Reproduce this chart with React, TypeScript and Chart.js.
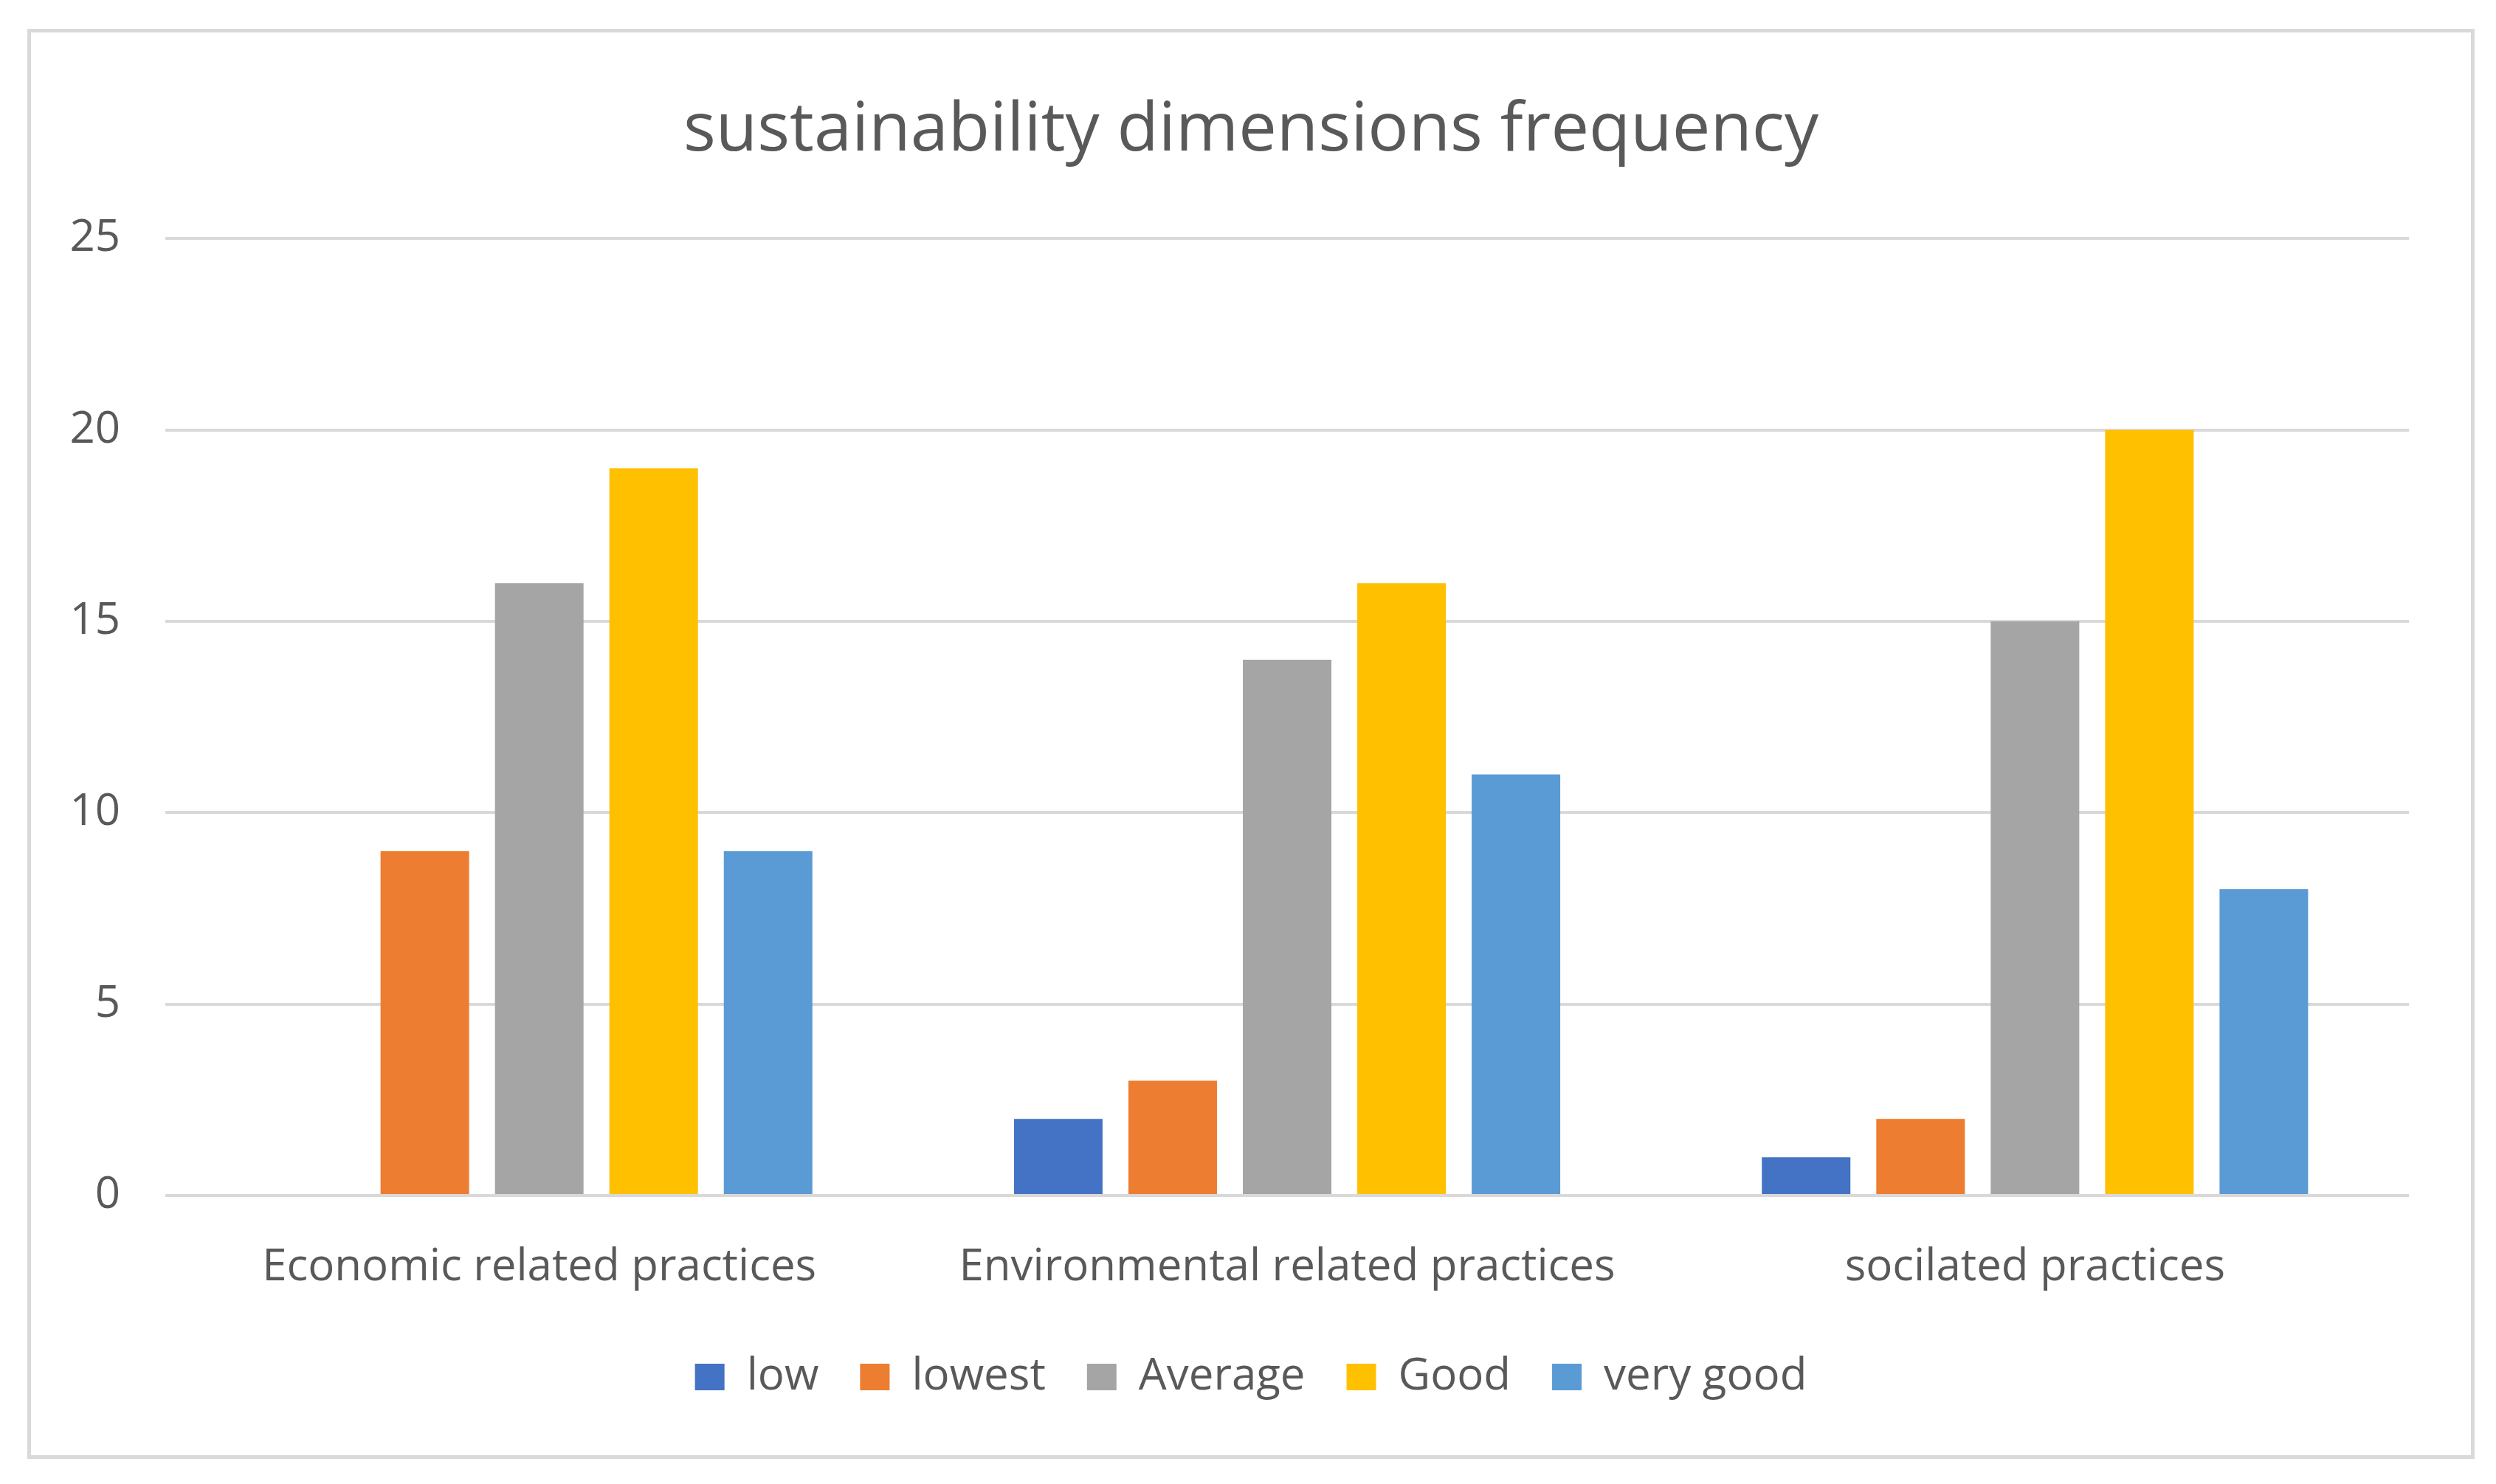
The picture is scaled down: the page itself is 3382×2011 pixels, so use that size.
import React, { useEffect, useRef } from 'react';
import { Chart, registerables } from 'chart.js';

Chart.register(...registerables);

const categories = ['Economic related practices', 'Environmental related practices', 'socilated practices'];
const seriesNames = ['low', 'lowest', 'Average', 'Good', 'very good'];
const lowValues = [0, 2, 1];
const lowestValues = [9, 3, 2];
const averageValues = [16, 14, 15];
const goodValues = [19, 16, 20];
const veryGoodValues = [9, 11, 8];
const seriesColors = ['#4472C4', '#ED7D31', '#A5A5A5', '#FFC000', '#5B9BD5'];
const yTicks = [0, 5, 10, 15, 20, 25];

const FONT = '"Open Sans", "DejaVu Sans", sans-serif';
const TEXT = '#595959';

const App: React.FC = () => {
  const canvasRef = useRef<HTMLCanvasElement>(null);
  const chartRef = useRef<Chart | null>(null);

  useEffect(() => {
    if (!canvasRef.current) return;
    if (chartRef.current) chartRef.current.destroy();

    const ctx = canvasRef.current.getContext('2d');
    if (!ctx) return;

    const values = [lowValues, lowestValues, averageValues, goodValues, veryGoodValues];

    chartRef.current = new Chart(ctx, {
      type: 'bar',
      data: {
        labels: categories,
        datasets: seriesNames.map((name, i) => ({
          label: name,
          data: values[i],
          backgroundColor: seriesColors[i],
          borderWidth: 0,
          categoryPercentage: 0.765,
          barPercentage: 0.774,
        })),
      },
      options: {
        animation: false,
        responsive: true,
        maintainAspectRatio: false,
        devicePixelRatio: 1,
        layout: { padding: { left: 0, right: 0, top: 0, bottom: 66 } },
        plugins: {
          title: {
            display: true,
            text: 'sustainability dimensions frequency',
            color: TEXT,
            font: { family: FONT, size: 92, weight: 'normal' },
            padding: { top: 79, bottom: 90 },
          },
          legend: {
            position: 'bottom',
            labels: {
              color: TEXT,
              font: { family: FONT, size: 60 },
              boxWidth: 40,
              boxHeight: 36,
              padding: 56,
            },
          },
          tooltip: { enabled: false },
        },
        scales: {
          x: {
            grid: { display: false },
            border: { display: false },
            ticks: {
              color: TEXT,
              font: { family: FONT, size: 60 },
              padding: 54,
              maxRotation: 0,
            },
            afterFit: (s: any) => {
              s.height = 160;
            },
          },
          y: {
            min: 0,
            max: 25,
            border: { display: false },
            grid: { color: '#D9D9D9', lineWidth: 4, drawTicks: false },
            afterBuildTicks: (s: any) => {
              s.ticks = yTicks.map(v => ({ value: v }));
            },
            ticks: {
              color: TEXT,
              font: { family: FONT, size: 60 },
              padding: 61,
            },
            afterFit: (s: any) => {
              s.width = 182;
            },
          },
          // empty right-hand margin so the title and legend stay centred on the whole box
          yRight: {
            type: 'linear',
            position: 'right',
            grid: { display: false },
            border: { display: false },
            ticks: { display: false },
            afterFit: (s: any) => {
              s.width = 84;
            },
          },
        },
      },
    });

    return () => {
      if (chartRef.current) {
        chartRef.current.destroy();
        chartRef.current = null;
      }
    };
  }, []);

  return (
    <div
      style={{
        position: 'absolute',
        left: 37,
        top: 39,
        width: 3316,
        height: 1938,
        boxSizing: 'border-box',
        border: '5px solid #D9D9D9',
        background: '#fff',
      }}
    >
      <div style={{ position: 'relative', width: 3306, height: 1928 }}>
        <canvas ref={canvasRef}></canvas>
      </div>
    </div>
  );
};

export default App;
